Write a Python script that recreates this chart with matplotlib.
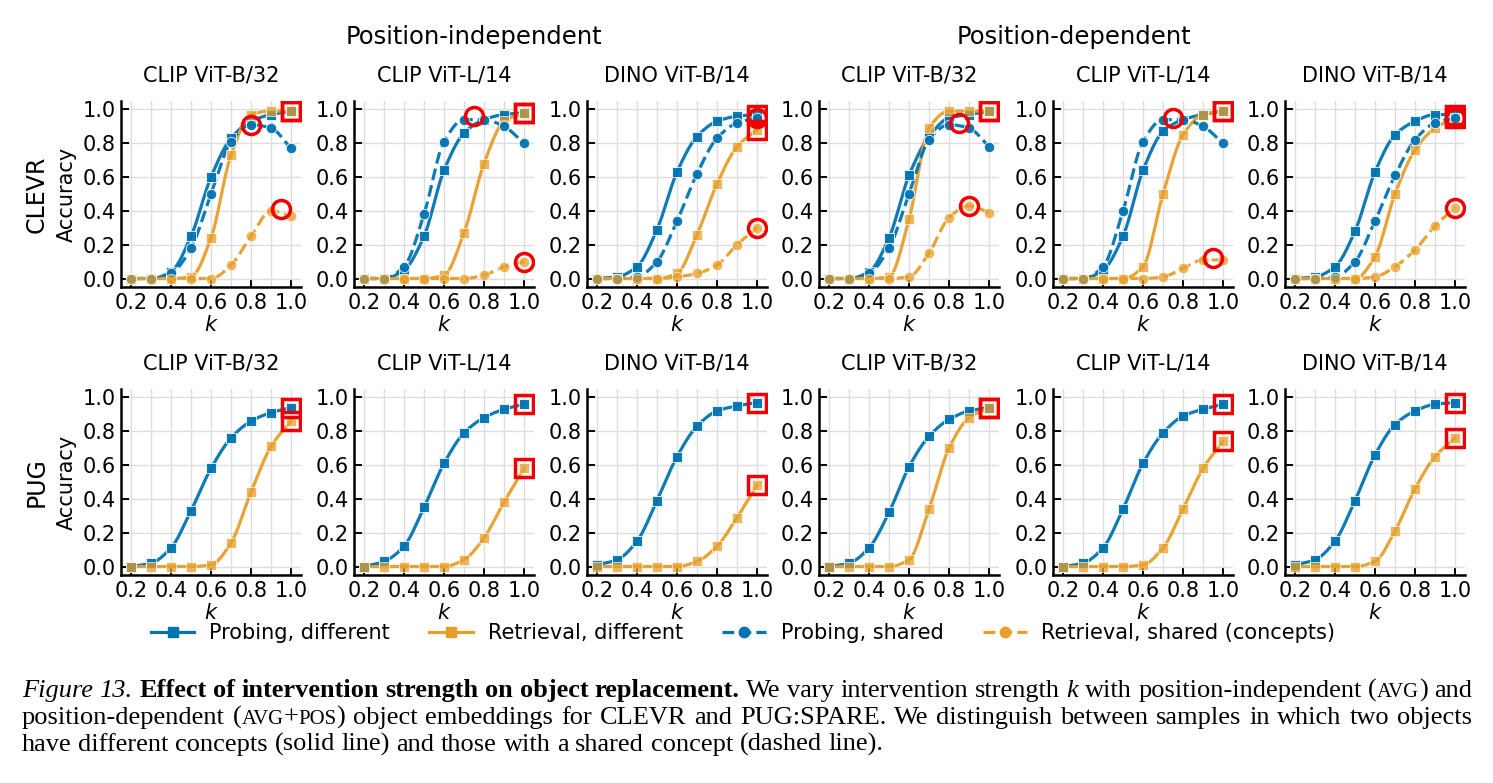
import numpy as np
import matplotlib
matplotlib.use("Agg")
import matplotlib.pyplot as plt
from matplotlib.lines import Line2D

W, H = 1493, 783

k = [0.2, 0.3, 0.4, 0.5, 0.6, 0.7, 0.8, 0.9, 1.0]
models = ["CLIP ViT-B/32", "CLIP ViT-L/14", "DINO ViT-B/14"]
groups = ["Position-independent", "Position-dependent"]
datasets = ["CLEVR", "PUG"]

# CLEVR, position-independent (one row per model)
clevr_ind_probe_diff = [
    [0.00, 0.00, 0.04, 0.25, 0.60, 0.83, 0.93, 0.97, 0.99],
    [0.00, 0.00, 0.05, 0.25, 0.64, 0.86, 0.94, 0.97, 0.98],
    [0.00, 0.01, 0.07, 0.29, 0.63, 0.84, 0.93, 0.96, 0.97],
]
clevr_ind_retr_diff = [
    [0.00, 0.00, 0.00, 0.01, 0.24, 0.73, 0.97, 0.99, 0.99],
    [0.00, 0.00, 0.00, 0.00, 0.02, 0.27, 0.68, 0.93, 0.98],
    [0.00, 0.00, 0.00, 0.00, 0.03, 0.26, 0.56, 0.78, 0.88],
]
clevr_ind_probe_shared = [
    [0.00, 0.00, 0.03, 0.18, 0.50, 0.81, 0.91, 0.89, 0.77],
    [0.00, 0.00, 0.07, 0.38, 0.81, 0.94, 0.94, 0.90, 0.80],
    [0.00, 0.00, 0.01, 0.10, 0.34, 0.62, 0.83, 0.92, 0.95],
]
clevr_ind_retr_shared = [
    [0.00, 0.00, 0.00, 0.00, 0.00, 0.08, 0.25, 0.40, 0.37],
    [0.00, 0.00, 0.00, 0.00, 0.00, 0.00, 0.02, 0.07, 0.10],
    [0.00, 0.00, 0.00, 0.00, 0.01, 0.03, 0.08, 0.20, 0.30],
]
# CLEVR, position-dependent
clevr_dep_probe_diff = [
    [0.00, 0.00, 0.04, 0.24, 0.61, 0.84, 0.95, 0.97, 0.99],
    [0.00, 0.00, 0.05, 0.25, 0.64, 0.87, 0.94, 0.97, 0.99],
    [0.00, 0.01, 0.07, 0.28, 0.63, 0.85, 0.93, 0.97, 0.97],
]
clevr_dep_retr_diff = [
    [0.00, 0.00, 0.00, 0.01, 0.35, 0.89, 0.99, 0.99, 0.99],
    [0.00, 0.00, 0.00, 0.00, 0.07, 0.50, 0.85, 0.97, 0.99],
    [0.00, 0.00, 0.00, 0.00, 0.13, 0.50, 0.76, 0.89, 0.95],
]
clevr_dep_probe_shared = [
    [0.00, 0.00, 0.03, 0.18, 0.50, 0.82, 0.91, 0.89, 0.78],
    [0.00, 0.00, 0.07, 0.40, 0.81, 0.94, 0.94, 0.90, 0.80],
    [0.00, 0.00, 0.01, 0.10, 0.34, 0.61, 0.82, 0.92, 0.95],
]
clevr_dep_retr_shared = [
    [0.00, 0.00, 0.00, 0.00, 0.01, 0.15, 0.36, 0.43, 0.39],
    [0.00, 0.00, 0.00, 0.00, 0.00, 0.01, 0.06, 0.11, 0.11],
    [0.00, 0.00, 0.00, 0.00, 0.01, 0.07, 0.17, 0.31, 0.42],
]
# PUG
pug_ind_probe_diff = [
    [0.00, 0.02, 0.11, 0.33, 0.58, 0.76, 0.86, 0.91, 0.94],
    [0.00, 0.03, 0.12, 0.35, 0.61, 0.79, 0.88, 0.93, 0.96],
    [0.01, 0.04, 0.15, 0.39, 0.65, 0.83, 0.92, 0.95, 0.97],
]
pug_ind_retr_diff = [
    [0.00, 0.00, 0.00, 0.00, 0.01, 0.14, 0.44, 0.71, 0.86],
    [0.00, 0.00, 0.00, 0.00, 0.00, 0.04, 0.17, 0.38, 0.58],
    [0.00, 0.00, 0.00, 0.00, 0.00, 0.03, 0.12, 0.29, 0.48],
]
pug_dep_probe_diff = [
    [0.00, 0.02, 0.11, 0.32, 0.59, 0.77, 0.87, 0.92, 0.94],
    [0.00, 0.02, 0.11, 0.34, 0.61, 0.79, 0.89, 0.93, 0.96],
    [0.01, 0.04, 0.15, 0.39, 0.66, 0.84, 0.92, 0.96, 0.97],
]
pug_dep_retr_diff = [
    [0.00, 0.00, 0.00, 0.00, 0.04, 0.34, 0.70, 0.88, 0.94],
    [0.00, 0.00, 0.00, 0.00, 0.01, 0.11, 0.34, 0.58, 0.74],
    [0.00, 0.00, 0.00, 0.00, 0.03, 0.21, 0.46, 0.65, 0.76],
]

# best shared-concept points (red circles), (k, accuracy) for probing / retrieval
clevr_ind_best_shared = [
    [(0.80, 0.91), (0.95, 0.41)],
    [(0.75, 0.96), (1.00, 0.10)],
    [(1.00, 0.95), (1.00, 0.30)],
]
clevr_dep_best_shared = [
    [(0.85, 0.92), (0.90, 0.43)],
    [(0.75, 0.95), (0.95, 0.12)],
    [(1.00, 0.95), (1.00, 0.42)],
]

BLUE = "#0173B2"
ORANGE = "#E69F2A"
RED = "#F00000"
FS = 15


def pchip(x, y, xs):
    # monotone cubic (Fritsch-Carlson) for drawing smooth curves
    x = np.asarray(x, float)
    y = np.asarray(y, float)
    h = np.diff(x)
    d = np.diff(y) / h
    m = np.zeros_like(y)
    m[0], m[-1] = d[0], d[-1]
    for i in range(1, len(x) - 1):
        if d[i - 1] * d[i] > 0:
            w1 = 2 * h[i] + h[i - 1]
            w2 = h[i] + 2 * h[i - 1]
            m[i] = (w1 + w2) / (w1 / d[i - 1] + w2 / d[i])
    idx = np.clip(np.searchsorted(x, xs) - 1, 0, len(x) - 2)
    t = (xs - x[idx]) / h[idx]
    h00 = 2 * t**3 - 3 * t**2 + 1
    h10 = t**3 - 2 * t**2 + t
    h01 = -2 * t**3 + 3 * t**2
    h11 = t**3 - t**2
    return h00 * y[idx] + h10 * h[idx] * m[idx] + h01 * y[idx + 1] + h11 * h[idx] * m[idx + 1]


def draw_series(ax, y, color, ls, marker, alpha):
    xs = np.linspace(k[0], k[-1], 300)
    ax.plot(xs, pchip(k, y, xs), color=color, lw=2.3, ls=ls, alpha=0.95, zorder=2)
    ax.plot(k, y, ls="none", marker=marker, ms=7.5, color=color, alpha=alpha,
            mec="white", mew=0.6, zorder=3)


def style_axes(ax):
    ax.set_xlim(0.15, 1.05)
    ax.set_ylim(-0.05, 1.05)
    ax.set_xticks([0.2, 0.4, 0.6, 0.8, 1.0])
    ax.set_yticks([0.0, 0.2, 0.4, 0.6, 0.8, 1.0])
    ax.set_xticks([0.3, 0.5, 0.7, 0.9], minor=True)
    ax.grid(True, which="both", color="#dddddd", lw=1.0, zorder=0)
    ax.tick_params(direction="in", length=6, width=1.4, labelsize=FS, pad=4)
    ax.tick_params(which="minor", length=0)
    for s in ["top", "right"]:
        ax.spines[s].set_visible(False)
    for s in ["left", "bottom"]:
        ax.spines[s].set_linewidth(1.8)
    ax.set_xlabel("$k$", fontsize=FS, labelpad=2)


fig = plt.figure(figsize=(W / 100, H / 100), dpi=100)

lefts = [121, 354, 587, 819, 1053, 1285]
row_tops = [101, 389]
aw, ah = 180, 186

for row in range(2):
    for col in range(6):
        g, m = divmod(col, 3)
        ax = fig.add_axes([lefts[col] / W, 1 - (row_tops[row] + ah) / H, aw / W, ah / H])
        style_axes(ax)
        ax.set_title(models[m], fontsize=FS, pad=14)
        if row == 0:
            pdiff = (clevr_ind_probe_diff, clevr_dep_probe_diff)[g][m]
            rdiff = (clevr_ind_retr_diff, clevr_dep_retr_diff)[g][m]
            psh = (clevr_ind_probe_shared, clevr_dep_probe_shared)[g][m]
            rsh = (clevr_ind_retr_shared, clevr_dep_retr_shared)[g][m]
            best = (clevr_ind_best_shared, clevr_dep_best_shared)[g][m]
        else:
            pdiff = (pug_ind_probe_diff, pug_dep_probe_diff)[g][m]
            rdiff = (pug_ind_retr_diff, pug_dep_retr_diff)[g][m]
            psh = rsh = None
            best = []
        draw_series(ax, pdiff, BLUE, "-", "s", 0.95)
        draw_series(ax, rdiff, ORANGE, "-", "s", 0.75)
        if psh is not None:
            draw_series(ax, psh, BLUE, "--", "o", 0.95)
            draw_series(ax, rsh, ORANGE, "--", "o", 0.75)
        for ser in (pdiff, rdiff):
            i = len(ser) - 1 - int(np.argmax(ser[::-1]))
            ax.plot(k[i], ser[i], marker="s", ms=13, mfc="none", mec=RED, mew=2.5, zorder=5)
        for bx, by in best:
            ax.plot(bx, by, marker="o", ms=13, mfc="none", mec=RED, mew=2.5, zorder=5)

# row / group labels
for row, name in enumerate(datasets):
    yc = 1 - (row_tops[row] + ah / 2) / H
    fig.text(37 / W, yc, name, rotation=90, ha="center", va="center", fontsize=17)
    fig.text(67 / W, yc, "Accuracy", rotation=90, ha="center", va="center", fontsize=FS)
fig.text(474 / W, 1 - 37 / H, groups[0], ha="center", va="center", fontsize=17.5)
fig.text(1074 / W, 1 - 37 / H, groups[1], ha="center", va="center", fontsize=17.5)

# legend
handles = [
    Line2D([], [], color=BLUE, lw=2.3, marker="s", ms=7.5),
    Line2D([], [], color=ORANGE, lw=2.3, marker="s", ms=7.5),
    Line2D([], [], color=BLUE, lw=2.3, ls="--", marker="o", ms=7.5),
    Line2D([], [], color=ORANGE, lw=2.3, ls="--", marker="o", ms=7.5),
]
labels = ["Probing, different", "Retrieval, different", "Probing, shared",
          "Retrieval, shared (concepts)"]
fig.legend(handles, labels, ncol=4, loc="center", bbox_to_anchor=(743 / W, 1 - 633 / H),
           frameon=False, fontsize=FS, handlelength=2.1, handletextpad=0.7,
           columnspacing=1.9)

# caption, drawn word by word so the first two lines are justified
CS = 19
cap = dict(family="Liberation Serif", size=CS, va="baseline", ha="left")
it = dict(cap, style="italic")
bf = dict(cap, weight="bold")
sc = dict(cap, size=CS * 0.78)


def words(text, st):
    return [[(w, st)] for w in text.split()]


line1 = (words("Figure 13.", it)
         + words("Effect of intervention strength on object replacement.", bf)
         + words("We vary intervention strength", cap) + [[("k", it)]]
         + words("with position-independent", cap)
         + [[("(", cap), ("AVG", sc), (")", cap)]] + words("and", cap))
line2 = (words("position-dependent", cap)
         + [[("(", cap), ("AVG", sc), ("+", cap), ("POS", sc), (")", cap)]]
         + words("object embeddings for CLEVR and PUG:SPARE. We distinguish between "
                 "samples in which two objects", cap))
line3 = words("have different concepts (solid line) and those with a shared concept "
              "(dashed line).", cap)

renderer = fig.canvas.get_renderer()
x0, x1 = 22, 1472
space = CS * 0.25 * 100 / 72
for wl, base, justify in [(line1, 697, True), (line2, 724, True), (line3, 751, False)]:
    placed = []
    for word in wl:
        parts = []
        for txt, st in word:
            t = fig.text(0, 1 - base / H, txt, **st)
            parts.append((t, t.get_window_extent(renderer).width))
        placed.append(parts)
    widths = [sum(p[1] for p in parts) for parts in placed]
    gap = (x1 - x0 - sum(widths)) / (len(placed) - 1) if justify else space
    x = x0
    for parts, w in zip(placed, widths):
        xx = x
        for t, pw in parts:
            t.set_x(xx / W)
            xx += pw
        x += w + gap

fig.savefig("out.png", dpi=100)
